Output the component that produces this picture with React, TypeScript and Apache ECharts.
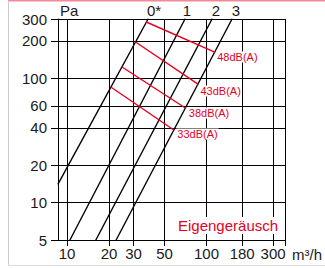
import React, { useEffect, useRef } from 'react';
import * as echarts from 'echarts';

// axis ticks (m³/h and Pa)
const xTicks = [10, 20, 30, 50, 100, 180, 300];
const yTicks = [5, 10, 20, 40, 60, 100, 200, 300];
const xMin = 8.62;
const xMax = 365;
const yMin = 5;
const yMax = 300;

// characteristic curves (flow m³/h, pressure Pa): lower end, upper end
const curveNames = ['0*', '1', '2', '3'];
const curve0 = [[8.62, 14.1], [38.1, 300]];
const curve1 = [[10.5, 5], [70.1, 300]];
const curve2 = [[16.1, 5], [109.5, 300]];
const curve3 = [[22.5, 5], [152.3, 300]];

// sound level lines
const noiseNames = ['48dB(A)', '43dB(A)', '38dB(A)', '33dB(A)'];
const noise48 = [[37.0, 283.7], [114.4, 162.7]];
const noise43 = [[31.0, 195.9], [86.8, 89.9]];
const noise38 = [[24.8, 123.3], [70.5, 57.7]];
const noise33 = [[20.6, 85.1], [58.3, 38.4]];

const titleText = 'Eigengeräusch';
const yName = 'Pa';
const xName = 'm³/h';

const FONT = "'Liberation Sans', Arial, sans-serif";
const RED = '#e6001e';
const INK = '#1a1a1a';

const L = (v: number) => Math.log10(v);

const curveLabelOffsets = [[6, 0], [2, 0], [4, 0], [4, 0]];
const noiseLabelOffsets = [[0, 5], [0, 7], [1, 5], [1, 4]];

export default function App() {
  const ref = useRef<HTMLDivElement>(null);
  useEffect(() => {
    if (!ref.current) return;
    const chart = echarts.init(ref.current, undefined, { renderer: 'svg' });
    const curves = [curve0, curve1, curve2, curve3];
    const noises = [noise48, noise43, noise38, noise33];

    const curveSeries = curves.map((pts, ci) => ({
      type: 'line',
      clip: false,
      silent: true,
      symbol: 'circle',
      symbolSize: 1,
      showSymbol: true,
      itemStyle: { color: '#000' },
      lineStyle: { color: '#000', width: 1.4 },
      z: 3,
      data: pts.map(([q, p], i) =>
        i === pts.length - 1
          ? {
              value: [L(q), L(p)],
              label: {
                show: true,
                formatter: curveNames[ci],
                position: 'top',
                distance: 1,
                offset: curveLabelOffsets[ci],
                fontSize: 15,
                color: INK,
                fontFamily: FONT,
              },
            }
          : [L(q), L(p)]
      ),
    }));

    const noiseSeries = noises.map((pts, ni) => ({
      type: 'line',
      clip: false,
      silent: true,
      symbol: 'circle',
      symbolSize: 1,
      showSymbol: true,
      itemStyle: { color: RED },
      lineStyle: { color: RED, width: 1.4 },
      z: 4,
      data: pts.map(([q, p], i) =>
        i === pts.length - 1
          ? {
              value: [L(q), L(p)],
              label: {
                show: true,
                formatter: noiseNames[ni],
                position: 'right',
                distance: 1,
                offset: noiseLabelOffsets[ni],
                fontSize: 11,
                lineHeight: 11,
                color: RED,
                fontFamily: FONT,
                backgroundColor: '#fff',
                padding: [0, 1],
              },
            }
          : [L(q), L(p)]
      ),
    }));

    chart.setOption({
      animation: false,
      backgroundColor: '#fff',
      title: {
        text: titleText,
        left: 176,
        top: 217,
        padding: [1, 2],
        backgroundColor: '#fff',
        textStyle: { color: RED, fontSize: 15, fontWeight: 'normal', fontFamily: FONT },
      },
      grid: { left: 58, right: 40, top: 19, bottom: 28, containLabel: false },
      xAxis: {
        type: 'value',
        min: L(xMin),
        max: L(xMax),
        axisLine: { show: true, onZero: false, lineStyle: { color: '#000', width: 1 } },
        axisTick: {
          show: true,
          customValues: [...xTicks, xMax].map(L),
          length: 6,
          lineStyle: { color: '#000' },
        },
        axisLabel: {
          customValues: xTicks.map(L),
          formatter: (v: number) => String(Math.round(Math.pow(10, v))),
          margin: 6,
          fontSize: 15,
          color: INK,
          fontFamily: FONT,
        },
        splitLine: { show: true, lineStyle: { color: '#000', width: 1 } },
      },
      yAxis: {
        type: 'value',
        min: L(yMin),
        max: L(yMax),
        axisLine: { show: true, onZero: false, lineStyle: { color: '#000', width: 1 } },
        axisTick: {
          show: true,
          customValues: yTicks.map(L),
          length: 7,
          lineStyle: { color: '#000' },
        },
        axisLabel: {
          customValues: yTicks.map(L),
          formatter: (v: number) => String(Math.round(Math.pow(10, v))),
          margin: 11,
          fontSize: 15,
          color: INK,
          fontFamily: FONT,
        },
        splitLine: { show: true, lineStyle: { color: '#000', width: 1 } },
      },
      graphic: [
        { type: 'line', silent: true, shape: { x1: 8, y1: 0.5, x2: 325, y2: 0.5 }, style: { stroke: '#f2899a', lineWidth: 2 } },
        { type: 'line', silent: true, shape: { x1: 8.5, y1: 2, x2: 8.5, y2: 265.5 }, style: { stroke: '#cccccc', lineWidth: 1 } },
        { type: 'line', silent: true, shape: { x1: 8.5, y1: 265.5, x2: 325, y2: 265.5 }, style: { stroke: '#dddddd', lineWidth: 1 } },
        { type: 'text', silent: true, x: 60, y: 10, style: { text: yName, font: `15px ${FONT}`, fill: INK, textVerticalAlign: 'middle', textAlign: 'left' } },
        { type: 'text', silent: true, x: 292, y: 254, style: { text: xName, font: `15px ${FONT}`, fill: INK, textVerticalAlign: 'middle', textAlign: 'left' } },
      ],
      series: [...curveSeries, ...noiseSeries],
    });
    return () => chart.dispose();
  }, []);
  return <div ref={ref} style={{ position: 'fixed', left: 0, top: 0, width: 325, height: 268 }} />;
}
